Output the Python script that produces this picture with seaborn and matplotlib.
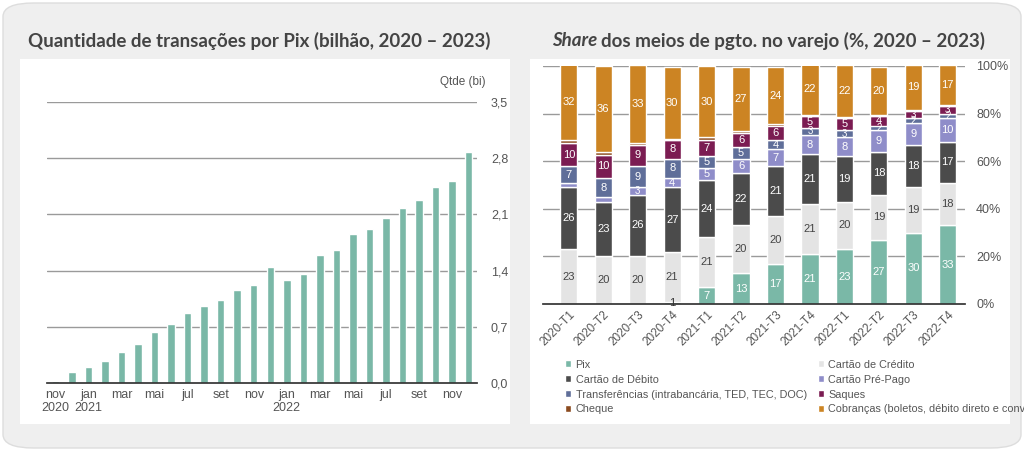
import numpy as np
import matplotlib
matplotlib.use('Agg')
import matplotlib.pyplot as plt
from matplotlib.patches import FancyBboxPatch, Rectangle
import seaborn as sns

sns.set_theme(style='white')
plt.rcParams['font.family'] = ['Liberation Sans', 'DejaVu Sans']

# left chart: monthly Pix transactions (billions), nov 2020 - dec 2022
pix_qtde = [0.025, 0.14, 0.20, 0.27, 0.39, 0.49, 0.64, 0.73, 0.87, 0.96, 1.03, 1.16, 1.22,
            1.44, 1.28, 1.36, 1.60, 1.66, 1.85, 1.92, 2.06, 2.18, 2.28, 2.44, 2.51, 2.88]
month_labels = ['nov\n2020', 'jan\n2021', 'mar', 'mai', 'jul', 'set', 'nov',
                'jan\n2022', 'mar', 'mai', 'jul', 'set', 'nov']

# right chart: share of payment methods (%)
quarters = ['2020-T1', '2020-T2', '2020-T3', '2020-T4', '2021-T1', '2021-T2',
            '2021-T3', '2021-T4', '2022-T1', '2022-T2', '2022-T3', '2022-T4']
series = ['Pix', 'Cartão de Crédito', 'Cartão de Débito', 'Cartão Pré-Pago',
          'Transferências (intrabancária, TED, TEC, DOC)', 'Saques', 'Cheque',
          'Cobranças (boletos, débito direto e convênios)']
pix = [0, 0, 0, 1, 7, 13, 17, 21, 23, 27, 30, 33]
credito = [23, 20, 20, 21, 21, 20, 20, 21, 20, 19, 19, 18]
debito = [26, 23, 26, 27, 24, 22, 21, 21, 19, 18, 18, 17]
prepago = [1.8, 1.8, 3, 4, 5, 6, 7, 8, 8, 9, 9, 10]
transf = [7, 8, 9, 8, 5, 5, 4, 3, 3, 2, 2, 2]
saques = [10, 10, 9, 8, 7, 6, 6, 5, 5, 4, 3, 3]
cheque = [1, 1, 0.5, 0.5, 1, 0.5, 0.5, 0.5, 0.5, 0.5, 0.5, 0.5]
cobrancas = [32, 36, 33, 30, 30, 27, 24, 22, 22, 20, 19, 17]
colors = ['#7ab8a7', '#e4e4e4', '#4b4b4b', '#8f8dc9', '#5f6e99', '#7b1c52', '#8b4a1e', '#cc8423']
label_colors = ['white', '#444444', 'white', 'white', 'white', 'white', 'white', 'white']

fig = plt.figure(figsize=(10.24, 4.51), dpi=100, facecolor='white')
W, H = 1024, 451
fig.patches.append(FancyBboxPatch((3 / W, 3 / H), 1018 / W, 445 / H,
                                  boxstyle='round,pad=0,rounding_size=0.03', zorder=-2,
                                  transform=fig.transFigure, fc='#efefef', ec='#dddddd', lw=1))
fig.patches.append(Rectangle((20 / W, 27 / H), 490 / W, 365 / H, transform=fig.transFigure,
                             fc='white', ec='none', zorder=-1))
fig.patches.append(Rectangle((530 / W, 27 / H), 480 / W, 365 / H, transform=fig.transFigure,
                             fc='white', ec='none', zorder=-1))

title_kw = dict(fontsize=13.5, fontweight='bold', color='#444444', family=['Lato', 'DejaVu Sans'])
fig.text(28 / W, 1 - 41 / H, 'Quantidade de transações por Pix (bilhão, 2020 – 2023)',
         va='center', **title_kw)
t1 = fig.text(552 / W, 1 - 41 / H, 'Share', va='center', style='italic', **title_kw)
fig.canvas.draw()
bb = t1.get_window_extent()
fig.text(bb.x1 / W + 0.004, 1 - 41 / H, 'dos meios de pgto. no varejo (%, 2020 – 2023)',
         va='center', **title_kw)

# left
ax1 = fig.add_axes([47 / W, 1 - 383 / H, 430 / W, 281 / H])
x = np.arange(len(pix_qtde))
sns.barplot(x=x, y=pix_qtde, color='#7ab8a7', saturation=1, width=0.45, ax=ax1)
ax1.set_ylim(0, 3.5)
ax1.set_xlim(-0.5, len(x) - 0.5)
yt = [0, 0.7, 1.4, 2.1, 2.8, 3.5]
ax1.set_yticks(yt)
ax1.set_yticklabels([f'{v:.1f}'.replace('.', ',') for v in yt], fontsize=9, color='#555555')
ax1.yaxis.tick_right()
ax1.tick_params(axis='y', length=0, pad=10)
for v in yt[1:]:
    ax1.axhline(v, color='#9a9a9a', lw=1, zorder=0)
ax1.set_xticks(x[::2])
ax1.set_xticklabels(month_labels, fontsize=9, color='#555555')
ax1.set_xticks(x[:-1] + 0.5, minor=True)
ax1.tick_params(axis='x', which='both', direction='in', length=3, color='#333333', pad=4)
for s in ['top', 'right', 'left']:
    ax1.spines[s].set_visible(False)
ax1.spines['bottom'].set_color('#333333')
ax1.text(1.02, 1.06, 'Qtde (bi)', transform=ax1.transAxes, ha='right', fontsize=8.5, color='#555555')

# right
ax2 = fig.add_axes([543 / W, 1 - 304 / H, 422 / W, 238 / H])
data = [pix, credito, debito, prepago, transf, saques, cheque, cobrancas]
bottom = np.zeros(len(quarters))
xq = np.arange(len(quarters))
for i, (name, vals) in enumerate(zip(series, data)):
    vals = np.array(vals, dtype=float)
    ax2.bar(xq, vals, bottom=bottom, width=0.5, color=colors[i], label=name, zorder=2)
    for j, v in enumerate(vals):
        if name == 'Cheque':
            continue
        if v >= 2 and v == int(v):
            fs = 8 if v >= 4 else 7
            ax2.text(j, bottom[j] + v / 2, f'{v:.0f}', ha='center', va='center',
                     fontsize=fs, color=label_colors[i], zorder=3)
        elif i == 0 and v == 1:
            ax2.text(j, bottom[j] + 0.5, '1', ha='center', va='center', fontsize=8,
                     color='#333333', zorder=3)
    bottom += vals
ax2.set_ylim(0, 100)
ax2.set_xlim(-0.75, len(quarters) - 0.5)
ax2.set_yticks([0, 20, 40, 60, 80, 100])
ax2.set_yticklabels([f'{v}%' for v in range(0, 101, 20)], fontsize=9, color='#555555')
ax2.yaxis.tick_right()
ax2.tick_params(axis='y', length=0, pad=8)
for v in range(20, 101, 20):
    ax2.axhline(v, color='#9a9a9a', lw=1, zorder=1)
ax2.set_xticks(xq)
ax2.set_xticklabels(quarters, rotation=45, ha='right', rotation_mode='anchor', fontsize=8.5, color='#555555')
ax2.set_xticks(xq[:-1] + 0.5, minor=True)
ax2.tick_params(axis='x', which='minor', direction='in', length=3, color='#333333')
ax2.tick_params(axis='x', which='major', length=0)
for s in ['top', 'right', 'left']:
    ax2.spines[s].set_visible(False)
ax2.spines['bottom'].set_color('#333333')

h, l = ax2.get_legend_handles_labels()
order = [0, 2, 4, 6, 1, 3, 5, 7]
fig.legend([h[k] for k in order], [l[k] for k in order], ncol=2, loc='upper left',
           bbox_to_anchor=(555 / W, 1 - 350 / H), frameon=False, fontsize=7.8,
           handlelength=0.6, handleheight=0.6, handletextpad=0.4, columnspacing=1.0,
           labelspacing=0.45, labelcolor='#555555')
fig.canvas.draw()

fig.savefig('out.png', dpi=100, facecolor='white')
